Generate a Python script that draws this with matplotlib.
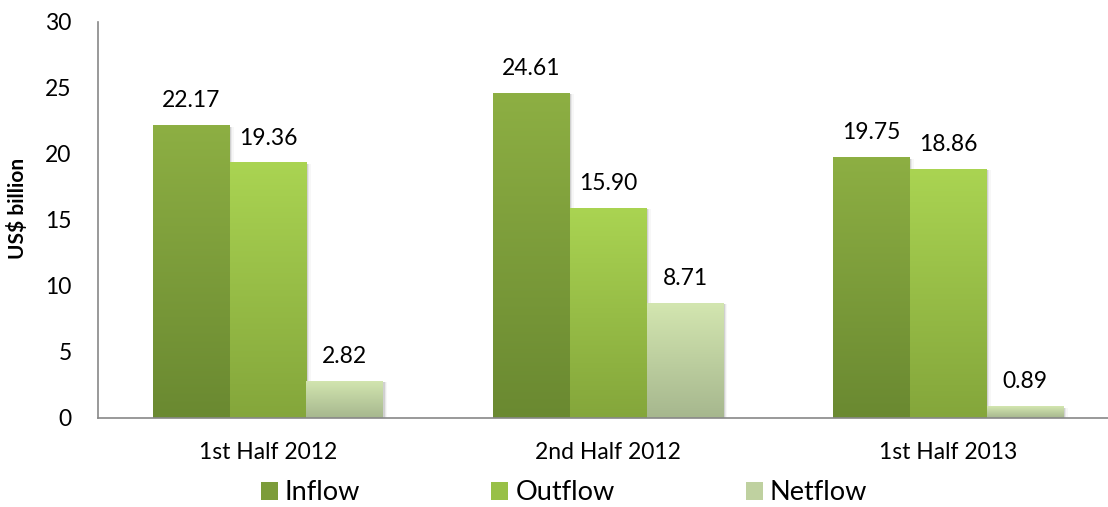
import numpy as np
import matplotlib
matplotlib.use("Agg")
import matplotlib.pyplot as plt
from matplotlib.colors import LinearSegmentedColormap
from matplotlib.patches import Patch, Rectangle

plt.rcParams['font.family'] = ['Lato', 'DejaVu Sans']

periods = ["1st Half 2012", "2nd Half 2012", "1st Half 2013"]
series = ["Inflow", "Outflow", "Netflow"]
inflow = [22.17, 24.61, 19.75]
outflow = [19.36, 15.90, 18.86]
netflow = [2.82, 8.71, 0.89]
values = [inflow, outflow, netflow]

# (top colour, bottom colour) for each series' vertical gradient
grad = [("#8DAF43", "#6A8931"),
        ("#AAD452", "#84A63B"),
        ("#D3E6B0", "#A6B78E")]

fig = plt.figure(figsize=(11.08, 5.07), dpi=100)
ax = fig.add_axes([98 / 1108, 1 - 418 / 507, 1010 / 1108, 396 / 507])

width = 0.226
x = np.arange(len(periods))

for i, (vals, (top, bot)) in enumerate(zip(values, grad)):
    cmap = LinearSegmentedColormap.from_list(series[i], [bot, top])
    offs = (i - 1) * width
    bars = ax.bar(x + offs, vals, width, color="none", edgecolor="none", zorder=2)
    for b, v in zip(bars, vals):
        x0, w, h = b.get_x(), b.get_width(), b.get_height()
        # soft shadow to the right of the bar
        for k, a in enumerate([0.10, 0.06, 0.03]):
            ax.add_patch(Rectangle((x0 + 0.004 * (k + 1), 0), w, h - 0.1,
                                   facecolor="black", alpha=a, edgecolor="none", zorder=1))
        img = ax.imshow(np.linspace(0, 1, 256).reshape(-1, 1), cmap=cmap,
                        origin="lower", aspect="auto",
                        extent=(x0, x0 + w, 0, h), zorder=2)
        img.set_clip_path(b)
        ax.annotate(f"{v:.2f}", (x0 + w / 2, h), xytext=(0, 10),
                    textcoords="offset points", ha="center", va="bottom",
                    fontsize=16.5, color="black")

ax.set_xlim(-0.5, 2.47)
ax.set_ylim(0, 30)
ax.set_yticks(range(0, 31, 5))
ax.set_xticks(x)
ax.set_xticklabels(periods, fontsize=16.5)
ax.tick_params(axis="y", labelsize=16.5, length=0, pad=19)
ax.tick_params(axis="x", length=0, pad=17)
ax.set_ylabel("US$ billion", fontsize=15, fontweight="bold")
ax.yaxis.set_label_coords(-0.069, 0.53)

for s in ["top", "right"]:
    ax.spines[s].set_visible(False)
for s in ["left", "bottom"]:
    ax.spines[s].set_color("#888888")
    ax.spines[s].set_linewidth(1.2)

handles = [Patch(facecolor=c, edgecolor="none") for c in ["#7C9C3A", "#98C047", "#BFD1A0"]]
fig.legend(handles, series, loc="center", bbox_to_anchor=(564 / 1108, 1 - 493 / 507),
           ncol=3, frameon=False, fontsize=19.5, handlelength=0.63, handleheight=0.63,
           handletextpad=0.26, columnspacing=4.84)

fig.savefig("out.png", dpi=100)
